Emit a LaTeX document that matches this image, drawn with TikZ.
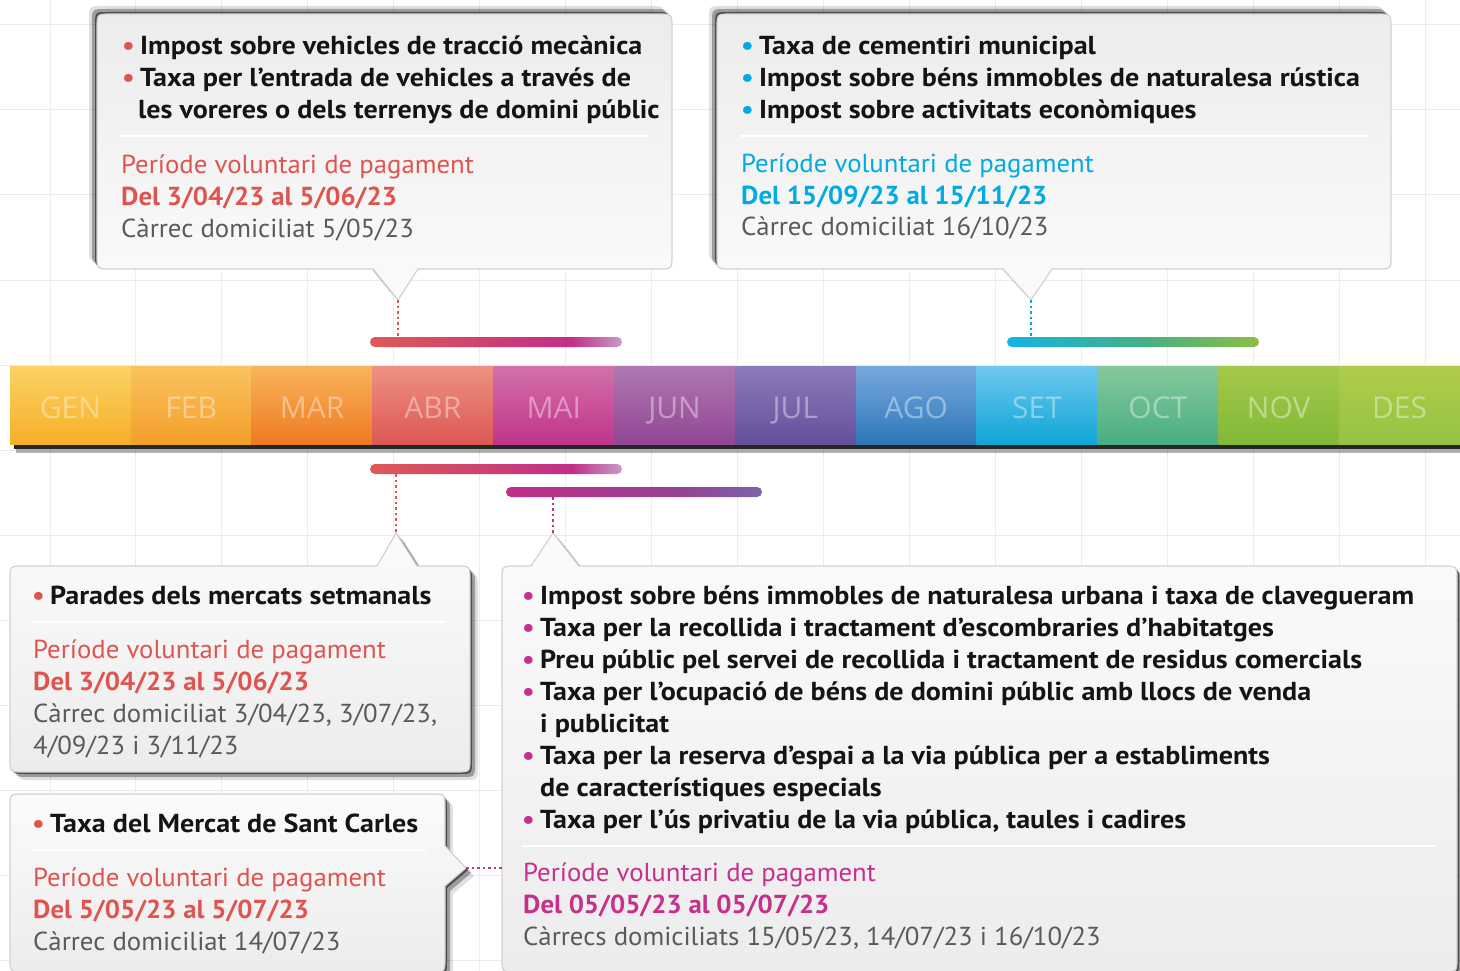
\documentclass[tikz,border=0pt]{standalone}
\usepackage{fontspec}
\setmainfont{PT Sans}[FakeStretch=1.03]
\newfontfamily\itemfont{PT Sans}[FakeStretch=1.08]
\newfontfamily\monthfont{Open Sans}
\usepackage{tikz}
\usetikzlibrary{shadows}

\definecolor{cRed}{RGB}{224,84,80}
\definecolor{cCyan}{RGB}{0,170,226}
\definecolor{cMag}{RGB}{198,48,140}
\definecolor{cGrey}{RGB}{90,90,90}
\definecolor{cInk}{RGB}{20,20,20}
\definecolor{boxGrey}{RGB}{236,236,236}
\definecolor{boxWhite}{RGB}{251,251,251}
\definecolor{boxLine}{RGB}{210,210,210}
\definecolor{gridGrey}{RGB}{236,236,236}
% month colours, top and bottom
\definecolor{mt0}{RGB}{250,210,100}\definecolor{mb0}{RGB}{247,175,40}
\definecolor{mt1}{RGB}{250,195,95}\definecolor{mb1}{RGB}{244,158,42}
\definecolor{mt2}{RGB}{248,180,90}\definecolor{mb2}{RGB}{238,122,35}
\definecolor{mt3}{RGB}{238,145,130}\definecolor{mb3}{RGB}{220,88,85}
\definecolor{mt4}{RGB}{212,112,168}\definecolor{mb4}{RGB}{192,52,138}
\definecolor{mt5}{RGB}{175,120,178}\definecolor{mb5}{RGB}{145,70,148}
\definecolor{mt6}{RGB}{140,122,185}\definecolor{mb6}{RGB}{100,80,155}
\definecolor{mt7}{RGB}{120,168,222}\definecolor{mb7}{RGB}{45,120,185}
\definecolor{mt8}{RGB}{110,200,238}\definecolor{mb8}{RGB}{15,165,215}
\definecolor{mt9}{RGB}{135,200,155}\definecolor{mb9}{RGB}{70,175,130}
\definecolor{mt10}{RGB}{165,200,75}\definecolor{mb10}{RGB}{130,185,55}
\definecolor{mt11}{RGB}{175,205,75}\definecolor{mb11}{RGB}{148,195,65}
% period bars
\definecolor{bRed}{RGB}{222,90,85}
\definecolor{bMag}{RGB}{194,46,136}
\definecolor{bPale}{RGB}{200,155,200}
\definecolor{bCyan}{RGB}{18,182,228}
\definecolor{bTeal}{RGB}{68,176,132}
\definecolor{bGreen}{RGB}{140,190,68}
\definecolor{bPlum}{RGB}{150,65,145}
\definecolor{bPurp}{RGB}{122,100,168}
\pgfdeclarehorizontalshading{redbar}{100bp}{color(0bp)=(bRed); color(25bp)=(bRed); color(65bp)=(bMag); color(75bp)=(bPale); color(100bp)=(bPale)}
\pgfdeclarehorizontalshading{bluebar}{100bp}{color(0bp)=(bCyan); color(25bp)=(bCyan); color(52bp)=(bTeal); color(75bp)=(bGreen); color(100bp)=(bGreen)}
\pgfdeclarehorizontalshading{magbar}{100bp}{color(0bp)=(bMag); color(25bp)=(bMag); color(58bp)=(bPlum); color(75bp)=(bPurp); color(100bp)=(bPurp)}

\newcommand{\blt}[1]{\makebox[18pt][l]{\color{#1}•}}

\begin{document}
\begin{tikzpicture}[x=1pt,y=-1pt,
        gridline/.style={draw=gridGrey, line width=1pt},
        calloutup/.style={draw=boxLine, line width=1.2pt, top color=boxGrey, bottom color=boxWhite,
            drop shadow={shadow xshift=-2pt, shadow yshift=2pt, opacity=.5, fill=black},
            drop shadow={shadow xshift=-5pt, shadow yshift=5pt, opacity=.3, fill=black},
            drop shadow={shadow xshift=-8pt, shadow yshift=8pt, opacity=.12, fill=black}},
        calloutdown/.style={draw=boxLine, line width=1.2pt, top color=boxWhite, bottom color=boxGrey,
            drop shadow={shadow xshift=2pt, shadow yshift=-2pt, opacity=.5, fill=black},
            drop shadow={shadow xshift=5pt, shadow yshift=-5pt, opacity=.3, fill=black},
            drop shadow={shadow xshift=8pt, shadow yshift=-8pt, opacity=.12, fill=black}},
        items/.style={anchor=base west, inner sep=0pt, align=left, text=cInk,
            font=\itemfont\bfseries\fontsize{26}{32}\selectfont},
        paytxt/.style={anchor=base west, inner sep=0pt, align=left, text=cGrey,
            font=\fontsize{26}{32}\selectfont},
        monthlbl/.style={anchor=base, text=white, text opacity=.4, font=\monthfont\fontsize{30}{36}\selectfont},
        bar/.style={shade, rounded corners=5pt, minimum height=10pt, inner sep=0pt, draw=none},
        dotline/.style={line width=2.5pt, dash pattern=on 2.5pt off 3pt},
        sepline/.style={draw=white, line width=2pt}]
    \useasboundingbox (0,0) rectangle (1460,971);
    \clip (0,0) rectangle (1460,971);
    \fill[white] (0,0) rectangle (1460,971);

    \foreach \k in {0,...,16}
        \draw[gridline] ({50+85.94*\k},0) -- ++(0,971);
    \foreach \k in {0,...,11}
        \draw[gridline] (0,{25+85*\k}) -- ++(1460,0);

    % months
    \fill[black,opacity=.3] (16,446) rectangle (1460,453);
    \fill[black!85] (14,443) rectangle (1460,449);
    \foreach \mon [count=\i from 0] in {GEN,FEB,MAR,ABR,MAI,JUN,JUL,AGO,SET,OCT,NOV,DES} {
        \shade[top color=mt\i, bottom color=mb\i] ({10+120.83*\i},366) rectangle ({10+120.83*(\i+1)},444);
        \node[monthlbl] (mon\i) at ({10+120.83*(\i+0.5)},418) {\mon};
    }

    % period bars
    \node[bar, shading=redbar, minimum width=252pt] (barA) at (496,342) {};
    \node[bar, shading=bluebar, minimum width=252pt] (barB) at (1133,342) {};
    \node[bar, shading=redbar, minimum width=252pt] (barC) at (496,469) {};
    \node[bar, shading=magbar, minimum width=256pt] (barD) at (634,492) {};

    % top left (base anchor = last line)
    \path[calloutup] (111,14) -- (658,14) .. controls (672,14) .. (672,28) -- (672,255)
        .. controls (672,269) .. (658,269) -- (418,269) -- (398,300) -- (373,269) -- (111,269)
        .. controls (97,269) .. (97,255) -- (97,28) .. controls (97,14) .. (111,14) -- cycle;
    \coordinate (tipA) at (398,300);
    \draw[sepline] (120,136) -- (648,136);
    \node[items] (itemsA) at (122,119) {\blt{cRed}Impost sobre vehicles de tracció mecànica\\
        \blt{cRed}Taxa per l’entrada de vehicles a través de\\
        \hspace*{16pt}les voreres o dels terrenys de domini públic};
    \node[paytxt] (payA) at (121,237) {{\color{cRed}Període voluntari de pagament}\\
        {\bfseries\color{cRed}Del 3/04/23 al 5/06/23}\\ Càrrec domiciliat 5/05/23};

    % top right
    \path[calloutup] (731,14) -- (1377,14) .. controls (1391,14) .. (1391,28) -- (1391,255)
        .. controls (1391,269) .. (1377,269) -- (1052,269) -- (1031,300) -- (1003,269) -- (731,269)
        .. controls (717,269) .. (717,255) -- (717,28) .. controls (717,14) .. (731,14) -- cycle;
    \coordinate (tipB) at (1031,300);
    \draw[sepline] (740,136) -- (1368,136);
    \node[items] (itemsB) at (741,119) {\blt{cCyan}Taxa de cementiri municipal\\
        \blt{cCyan}Impost sobre béns immobles de naturalesa rústica\\
        \blt{cCyan}Impost sobre activitats econòmiques};
    \node[paytxt] (payB) at (741,236) {{\color{cCyan}Període voluntari de pagament}\\
        {\bfseries\color{cCyan}Del 15/09/23 al 15/11/23}\\ Càrrec domiciliat 16/10/23};

    % mercats
    \path[calloutdown] (24,566) -- (377,566) -- (396,533) -- (417,566) -- (456,566)
        .. controls (470,566) .. (470,580) -- (470,758) .. controls (470,772) .. (456,772) -- (24,772)
        .. controls (10,772) .. (10,758) -- (10,580) .. controls (10,566) .. (24,566) -- cycle;
    \coordinate (tipC) at (396,533);
    \draw[sepline] (32,622) -- (446,622);
    \node[items] (itemsC) at (32,604) {\blt{cRed}Parades dels mercats setmanals};
    \node[paytxt] (payC) at (33,754) {{\color{cRed}Període voluntari de pagament}\\
        {\bfseries\color{cRed}Del 3/04/23 al 5/06/23}\\ Càrrec domiciliat 3/04/23, 3/07/23,\\ 4/09/23 i 3/11/23};

    % Sant Carles
    \path[calloutdown] (24,794) -- (431,794) .. controls (445,794) .. (445,808) -- (445,846)
        -- (466,868) -- (445,886) -- (445,958) .. controls (445,972) .. (431,972) -- (24,972)
        .. controls (10,972) .. (10,958) -- (10,808) .. controls (10,794) .. (24,794) -- cycle;
    \coordinate (tipD) at (466,868);
    \draw[sepline] (32,850) -- (426,850);
    \node[items] (itemsD) at (32,832) {\blt{cRed}Taxa del Mercat de Sant Carles};
    \node[paytxt] (payD) at (33,950) {{\color{cRed}Període voluntari de pagament}\\
        {\bfseries\color{cRed}Del 5/05/23 al 5/07/23}\\ Càrrec domiciliat 14/07/23};

    % urbana
    \path[calloutdown] (516,566) -- (531,566) -- (553,533) -- (579,566) -- (1443,566)
        .. controls (1457,566) .. (1457,580) -- (1457,958) .. controls (1457,972) .. (1443,972) -- (516,972)
        .. controls (502,972) .. (502,958) -- (502,580) .. controls (502,566) .. (516,566) -- cycle;
    \coordinate (tipE) at (553,533);
    \coordinate (edgeE) at (502,868);
    \draw[sepline] (522,846) -- (1436,846);
    \node[items] (itemsE) at (522,828) {\blt{cMag}Impost sobre béns immobles de naturalesa urbana i taxa de clavegueram\\
        \blt{cMag}Taxa per la recollida i tractament d’escombraries d’habitatges\\
        \blt{cMag}Preu públic pel servei de recollida i tractament de residus comercials\\
        \blt{cMag}Taxa per l’ocupació de béns de domini públic amb llocs de venda\\
        \hspace*{18pt}i publicitat\\
        \blt{cMag}Taxa per la reserva d’espai a la via pública per a establiments\\
        \hspace*{18pt}de característiques especials\\
        \blt{cMag}Taxa per l’ús privatiu de la via pública, taules i cadires};
    \node[paytxt] (payE) at (523,945) {{\color{cMag}Període voluntari de pagament}\\
        {\bfseries\color{cMag}Del 05/05/23 al 05/07/23}\\ Càrrecs domiciliats 15/05/23, 14/07/23 i 16/10/23};

    % connectors
    \draw[dotline, cRed] (tipA) -- (tipA |- barA.north);
    \draw[dotline, cCyan] (tipB) -- (tipB |- barB.north);
    \draw[dotline, cRed] (barC.south -| tipC) -- (tipC);
    \draw[dotline, cMag] (barD.south -| tipE) -- (tipE);
    \draw[dotline, cMag] (tipD) -- (edgeE);
\end{tikzpicture}
\end{document}
